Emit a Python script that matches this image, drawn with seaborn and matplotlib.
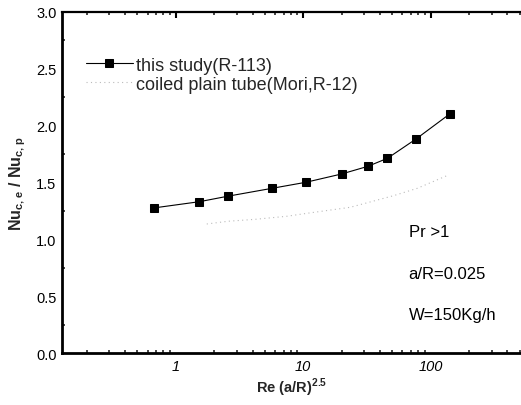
import matplotlib
matplotlib.use("Agg")
import matplotlib.pyplot as plt
import seaborn as sns
import pandas as pd
from matplotlib.ticker import LogLocator, MultipleLocator, FixedLocator, FixedFormatter

sns.set_theme(style="white")
plt.rcParams['font.family'] = ['Liberation Sans', 'DejaVu Sans']
plt.rcParams['mathtext.fontset'] = 'custom'
plt.rcParams['mathtext.rm'] = 'Liberation Sans'
plt.rcParams['mathtext.bf'] = 'Liberation Sans:bold'

# Data
study_x = [0.67, 1.53, 2.55, 5.70, 10.5, 20.0, 32.1, 45.8, 77.2, 141]
study_y = [1.276, 1.331, 1.379, 1.449, 1.502, 1.575, 1.642, 1.713, 1.885, 2.103]
mori_x = [1.75, 2.57, 4.19, 7.44, 10.7, 23.4, 51.1, 78.5, 138]
mori_y = [1.135, 1.159, 1.176, 1.203, 1.229, 1.282, 1.384, 1.449, 1.566]
series_names = ["this study(R-113)", "coiled plain tube(Mori,R-12)"]
annotations = ["Pr >1", "a/R=0.025", "W=150Kg/h"]

fig = plt.figure(figsize=(5.21, 4.06), dpi=100)
ax = fig.add_axes([62/521, 1-354/406, 1-62/521, (354-13)/406])

df_s = pd.DataFrame({"x": study_x, "y": study_y})
df_m = pd.DataFrame({"x": mori_x, "y": mori_y})

sns.lineplot(data=df_s, x="x", y="y", ax=ax, color="black", linewidth=0.8,
             marker="s", markersize=5.5, markeredgecolor="black",
             label=series_names[0])
sns.lineplot(data=df_m, x="x", y="y", ax=ax, color="#bbbbbb", linewidth=0.8,
             linestyle=(0, (1, 3)), label=series_names[1])

ax.set_xscale("log")
ax.set_xlim(0.128, 511)
ax.set_ylim(0, 3.0)

ax.yaxis.set_major_locator(MultipleLocator(0.5))
ax.yaxis.set_minor_locator(MultipleLocator(0.25))
ax.set_yticklabels([f"{v:.1f}" for v in ax.get_yticks()])
ax.xaxis.set_major_locator(FixedLocator([1, 10, 100]))
ax.xaxis.set_major_formatter(FixedFormatter(["1", "10", "100"]))
ax.xaxis.set_minor_locator(LogLocator(base=10, subs=range(2, 10), numticks=20))

for lab in ax.get_xticklabels():
    lab.set_fontstyle("italic")

ax.tick_params(axis="both", which="major", direction="in", length=4, width=1.5,
               labelsize=10.5, colors="black", pad=4, top=True)
ax.tick_params(axis="both", which="minor", direction="in", length=2.5, width=1.2,
               top=True, left=True, bottom=True)
ax.tick_params(axis="y", which="both", right=False)

for side in ["left", "bottom"]:
    ax.spines[side].set_linewidth(2.0)
    ax.spines[side].set_color("black")
ax.spines["top"].set_linewidth(1.6)
ax.spines["top"].set_color("black")
ax.spines["right"].set_visible(False)

ax.set_xlabel(r"Re (a/R)$^{\mathbf{2.5}}$", fontsize=10.5, fontweight="bold", labelpad=2)
ax.set_ylabel(r"Nu$_{\mathbf{c,e}}$ / Nu$_{\mathbf{c,p}}$", fontsize=11.5,
              fontweight="bold", labelpad=6)

leg = ax.legend(loc="upper left", bbox_to_anchor=(0.036, 0.89), frameon=False,
                fontsize=13, handlelength=2.6, handletextpad=0.2,
                labelspacing=0.1, borderaxespad=0)

for i, txt in enumerate(annotations):
    ax.text(0.755, 0.355 - i*0.121, txt, transform=ax.transAxes,
            fontsize=12, color="black", va="center", ha="left")

ax.grid(False)
fig.savefig("out.png", dpi=100)
